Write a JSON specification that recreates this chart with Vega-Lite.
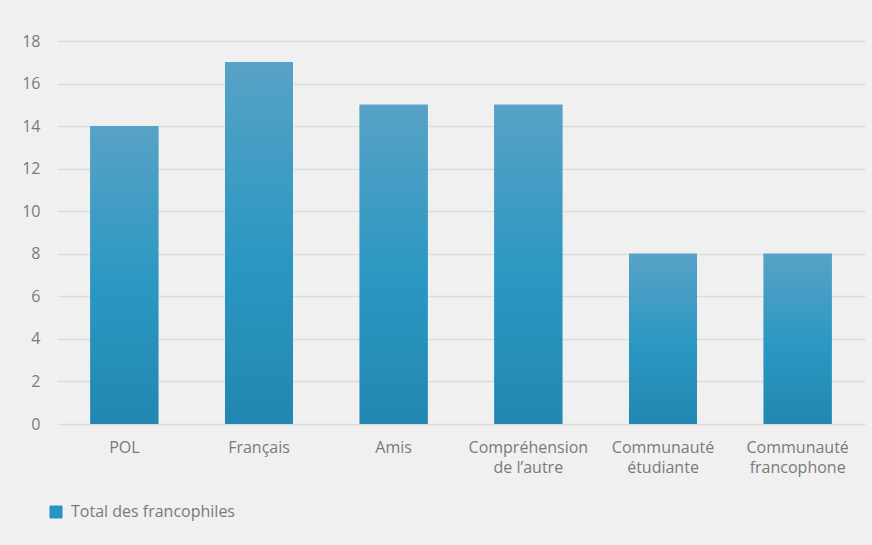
{
  "$schema": "https://vega.github.io/schema/vega-lite/v6.json",
  "autosize": "none",
  "width": 808,
  "height": 383,
  "padding": {"left": 57, "top": 41, "right": 7, "bottom": 121},
  "background": "#f0f0f0",
  "config": {
    "view": {"stroke": null},
    "font": "Open Sans",
    "axis": {"labelFont": "Open Sans", "labelColor": "#7a7a7a", "labelFontSize": 16}
  },
  "data": {
    "values": [
      {"cat": "POL", "val": 14, "series": "Total des francophiles"},
      {"cat": "Français", "val": 17, "series": "Total des francophiles"},
      {"cat": "Amis", "val": 15, "series": "Total des francophiles"},
      {"cat": "Compréhension|de l’autre", "val": 15, "series": "Total des francophiles"},
      {"cat": "Communauté|étudiante", "val": 8, "series": "Total des francophiles"},
      {"cat": "Communauté|francophone", "val": 8, "series": "Total des francophiles"}
    ]
  },
  "encoding": {
    "x": {
      "field": "cat", "type": "nominal", "sort": null,
      "scale": {"paddingInner": 0.495, "paddingOuter": 0.2475},
      "axis": {
        "title": null, "labelAngle": 0, "domain": false, "ticks": false,
        "labelPadding": 15, "labelLineHeight": 20, "labelLimit": 200,
        "labelExpr": "split(datum.label, '|')"
      }
    },
    "y": {
      "field": "val", "type": "quantitative",
      "scale": {"domain": [0, 18], "nice": false},
      "axis": {
        "title": null, "values": [0, 2, 4, 6, 8, 10, 12, 14, 16, 18],
        "domain": false, "ticks": false, "labelPadding": 17,
        "gridColor": "#dcdcdc", "gridWidth": 1.5
      }
    }
  },
  "layer": [
    {
      "mark": {"type": "bar"},
      "encoding": {
        "color": {
          "field": "series", "type": "nominal",
          "scale": {"range": ["#2b93bf"]},
          "legend": {
            "title": null, "orient": "none", "legendX": -9, "legendY": 463,
            "symbolType": "square", "symbolSize": 169, "symbolStrokeWidth": 0,
            "labelFont": "Open Sans", "labelFontSize": 16, "labelColor": "#7a7a7a",
            "labelOffset": 7, "labelLimit": 400
          }
        }
      }
    },
    {
      "mark": {
        "type": "bar",
        "color": {
          "gradient": "linear", "x1": 0, "y1": 0, "x2": 0, "y2": 1,
          "stops": [
            {"offset": 0, "color": "#57a2c6"},
            {"offset": 0.55, "color": "#2a97c2"},
            {"offset": 1, "color": "#2287b2"}
          ]
        }
      }
    }
  ]
}
